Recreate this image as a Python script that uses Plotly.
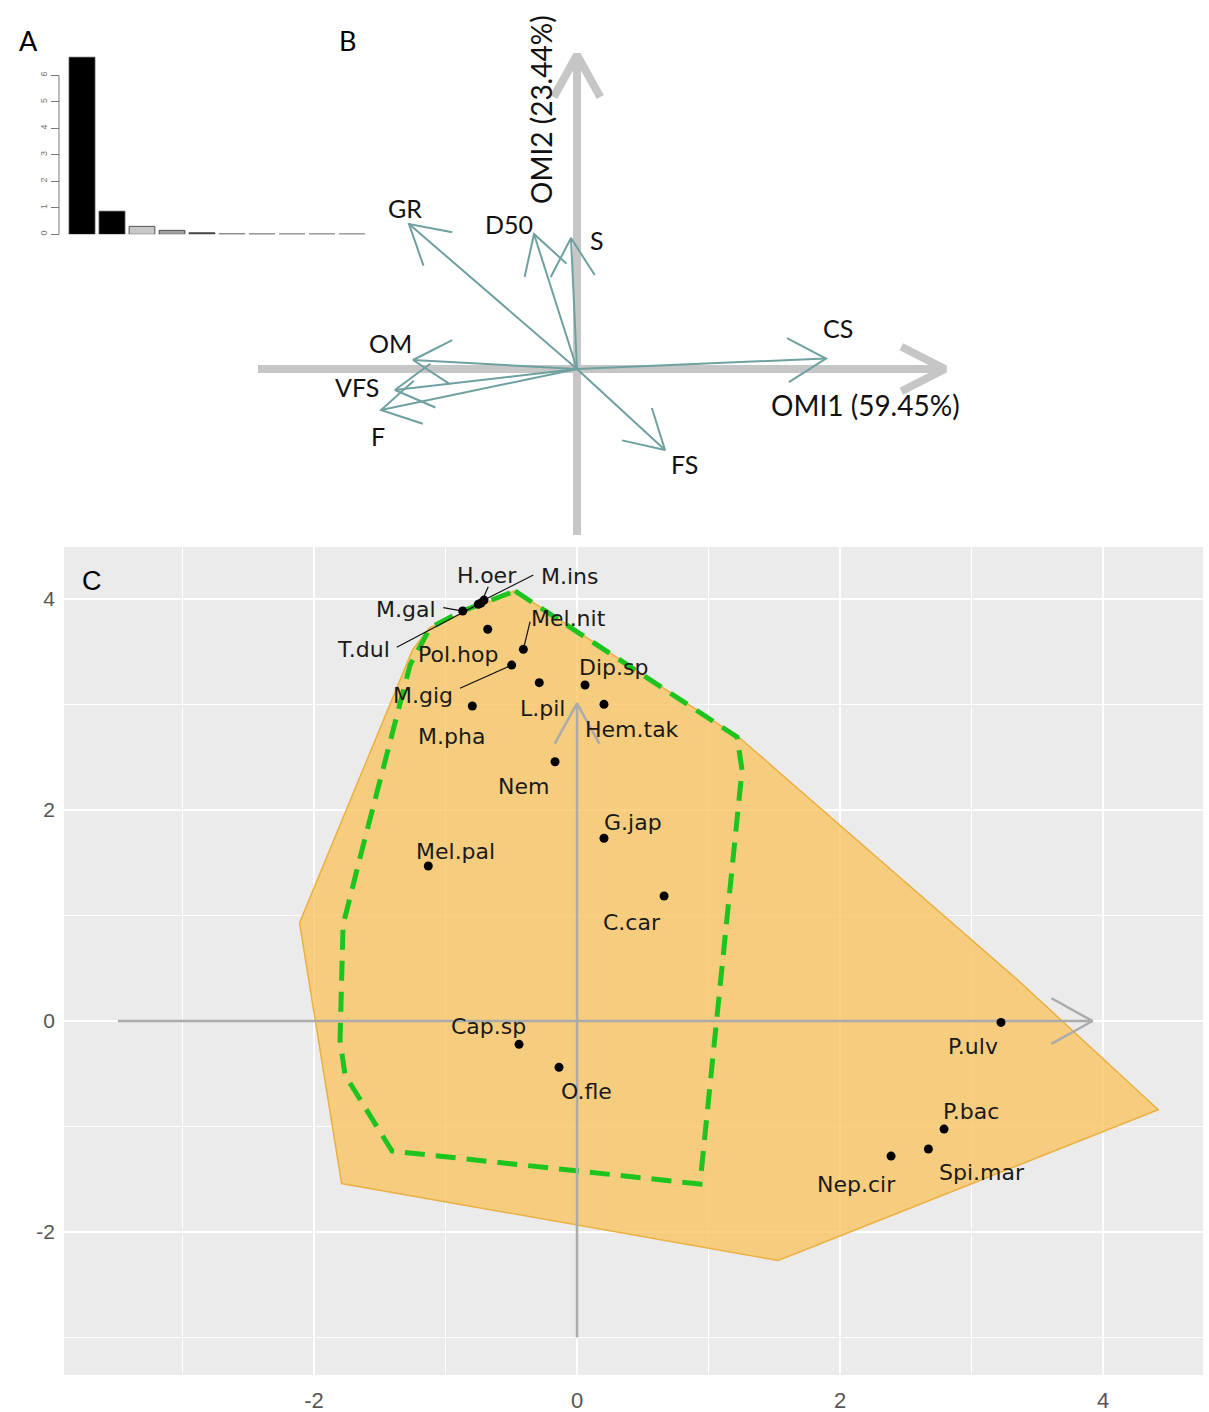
import math
import plotly.graph_objects as go

W, H = 1209, 1412

# ---------------- Panel A : eigenvalue screeplot ----------------
eig_rank = [1, 2, 3, 4, 5, 6, 7, 8, 9, 10]
eig_values = [6.68, 0.87, 0.30, 0.15, 0.06, 0.015, 0.012, 0.01, 0.01, 0.01]
eig_fill = ["#000000", "#000000", "#C8C8C8", "#A0A0A0", "#505050",
            "#9A9A9A", "#9A9A9A", "#9A9A9A", "#9A9A9A", "#9A9A9A"]
eig_ticks = [0, 1, 2, 3, 4, 5, 6]

# ---------------- Panel B : environmental variables ----------------
var_names = ["GR", "D50", "S", "CS", "OM", "VFS", "F", "FS"]
var_x = [-1.68, -0.43, -0.06, 2.49, -1.64, -1.82, -1.96, 0.88]
var_y = [1.45, 1.35, 1.31, 0.105, 0.09, -0.21, -0.41, -0.81]
var_lab_x = [-1.72, -0.68, 0.20, 2.61, -1.87, -2.20, -1.99, 1.07]
var_lab_y = [1.61, 1.45, 1.29, 0.41, 0.26, -0.18, -0.67, -0.95]
omi_h_axis = [-3.19, 3.68]   # OMI1 axis extent
omi_v_axis = [-1.66, 3.14]   # OMI2 axis extent
omi1_title = "OMI1 (59.45%)"
omi2_title = "OMI2 (23.44%)"

# ---------------- Panel C : species niche positions ----------------
species = ["H.oer", "M.ins", "M.gal", "T.dul", "Mel.nit", "Pol.hop", "Dip.sp",
           "M.gig", "L.pil", "Hem.tak", "M.pha", "Nem", "G.jap", "Mel.pal",
           "C.car", "Cap.sp", "O.fle", "P.ulv", "P.bac", "Spi.mar", "Nep.cir"]
sp_x = [-0.730, -0.707, -0.869, -0.750, -0.408, -0.679, 0.061, -0.497, -0.287,
        0.205, -0.796, -0.167, 0.205, -1.131, 0.662, -0.441, -0.137, 3.224,
        2.791, 2.672, 2.388]
sp_y = [3.962, 3.990, 3.886, 3.950, 3.523, 3.713, 3.185, 3.374, 3.207, 3.002,
        2.986, 2.458, 1.732, 1.469, 1.185, -0.221, -0.439, -0.013, -1.024,
        -1.213, -1.280]
lab_x = [-0.687, -0.057, -1.300, -1.620, -0.061, -0.907, 0.276, -1.173, -0.264,
         0.416, -0.958, -0.408, 0.424, -0.924, 0.421, -0.675, 0.074, 3.014,
         2.994, 3.078, 2.122]
lab_y = [4.227, 4.218, 3.902, 3.517, 3.820, 3.476, 3.349, 3.081, 2.964, 2.765,
         2.695, 2.227, 1.883, 1.611, 0.932, -0.054, -0.664, -0.244, -0.860,
         -1.438, -1.545]
leader_species = ["M.gal", "T.dul", "H.oer", "M.ins", "Mel.nit", "M.gig"]
leader_x0 = [-1.017, -1.371, -0.675, -0.332, -0.357, -0.890]
leader_y0 = [3.918, 3.542, 4.117, 4.227, 3.785, 3.154]

hull_x = [-0.47, 1.24, 3.35, 4.42, 1.53, -1.79, -2.11, -1.25, -1.12]
hull_y = [4.08, 2.68, 0.39, -0.84, -2.27, -1.54, 0.93, 3.52, 3.73]

green_x = [-0.471, 1.217, 1.255, 0.935, -1.407, -1.764, -1.802, -1.779, -1.635,
           -1.270, -1.118, -0.890]
green_y = [4.076, 2.692, 2.379, -1.545, -1.232, -0.512, -0.180, 0.910, 1.621,
           3.374, 3.725, 3.877]

c_h_axis = [-3.49, 3.92]
c_v_axis = [-3.0, 3.01]
c_ticks = [-2, 0, 2, 4]
c_tick_text = ["-2", "0", "2", "4"]
c_minor = [-3, -1, 1, 3]

# ---------------- geometry / layout ----------------
A_xdom = [67 / W, 367 / W]
A_xrange = [0.5, 10.5]
A_yrange = [0, 6.8]
A_ydom = [1 - 234.3 / H, 1 - (234.3 - 6.8 * 26.5) / H]

B_xdom = [240 / W, 980 / W]
B_ydom = [1 - 545 / H, 1 - 30 / H]
B_xrange = [-3.37, 4.03]
B_yrange = [-1.76, 3.39]

C_xdom = [64 / W, 1203 / W]
C_ydom = [1 - 1375 / H, 1 - 547 / H]
C_xrange = [-3.901, 4.760]
C_yrange = [-3.355, 4.493]


def px_scale(xdom, ydom, xr, yr):
    sx = (xdom[1] - xdom[0]) * W / (xr[1] - xr[0])
    sy = (ydom[1] - ydom[0]) * H / (yr[1] - yr[0])
    return sx, sy


def arrow_path(x0, y0, x1, y1, sx, sy, head_len, ang_deg, shaft=True):
    dx, dy = (x1 - x0) * sx, (y1 - y0) * sy
    n = math.hypot(dx, dy)
    ux, uy = -dx / n, -dy / n
    a = math.radians(ang_deg)
    pts = []
    for s in (1, -1):
        rx = ux * math.cos(s * a) - uy * math.sin(s * a)
        ry = ux * math.sin(s * a) + uy * math.cos(s * a)
        pts.append((x1 + head_len * rx / sx, y1 + head_len * ry / sy))
    xs, ys = [], []
    if shaft:
        xs += [x0, x1, None]
        ys += [y0, y1, None]
    xs += [pts[0][0], x1, pts[1][0], None]
    ys += [pts[0][1], y1, pts[1][1], None]
    return xs, ys


fig = go.Figure()

# ---- Panel A
fig.add_trace(go.Bar(x=eig_rank, y=eig_values, marker_color=eig_fill,
                     marker_line=dict(color="#333333", width=0.8),
                     width=0.86, xaxis="x", yaxis="y", showlegend=False))

# ---- Panel B
bsx, bsy = px_scale(B_xdom, B_ydom, B_xrange, B_yrange)
gx, gy = arrow_path(omi_h_axis[0], 0, omi_h_axis[1], 0, bsx, bsy, 49, 27)
fig.add_trace(go.Scatter(x=gx, y=gy, mode="lines", xaxis="x2", yaxis="y2",
                         line=dict(color="#C6C6C6", width=8), showlegend=False,
                         hoverinfo="skip"))
gx, gy = arrow_path(0, omi_v_axis[0], 0, omi_v_axis[1], bsx, bsy, 48, 29)
fig.add_trace(go.Scatter(x=gx, y=gy, mode="lines", xaxis="x2", yaxis="y2",
                         line=dict(color="#C6C6C6", width=8), showlegend=False,
                         hoverinfo="skip"))
ax_all, ay_all = [], []
for vx, vy in zip(var_x, var_y):
    xs, ys = arrow_path(0, 0, vx, vy, bsx, bsy, 44, 30)
    ax_all += xs
    ay_all += ys
fig.add_trace(go.Scatter(x=ax_all, y=ay_all, mode="lines", xaxis="x2", yaxis="y2",
                         line=dict(color="#6FA0A0", width=2), showlegend=False,
                         hoverinfo="skip"))

# ---- Panel C
csx, csy = px_scale(C_xdom, C_ydom, C_xrange, C_yrange)
fig.add_trace(go.Scatter(x=hull_x + [hull_x[0]], y=hull_y + [hull_y[0]],
                         mode="lines", fill="toself",
                         fillcolor="rgba(250,195,90,0.75)",
                         line=dict(color="#EBB042", width=1.5),
                         xaxis="x3", yaxis="y3", showlegend=False, hoverinfo="skip"))
fig.add_trace(go.Scatter(x=green_x + [green_x[0]], y=green_y + [green_y[0]],
                         mode="lines", line=dict(color="#1DC41D", width=5, dash="20px,11px"),
                         xaxis="x3", yaxis="y3", showlegend=False, hoverinfo="skip"))
hx, hy = arrow_path(c_h_axis[0], 0, c_h_axis[1], 0, csx, csy, 47, 29)
vx_, vy_ = arrow_path(0, c_v_axis[0], 0, c_v_axis[1], csx, csy, 46, 29)
fig.add_trace(go.Scatter(x=hx + vx_, y=hy + vy_, mode="lines",
                         line=dict(color="#ABABAB", width=2.5),
                         xaxis="x3", yaxis="y3", showlegend=False, hoverinfo="skip"))
lx, ly = [], []
for name, x0, y0 in zip(leader_species, leader_x0, leader_y0):
    i = species.index(name)
    lx += [x0, sp_x[i], None]
    ly += [y0, sp_y[i], None]
fig.add_trace(go.Scatter(x=lx, y=ly, mode="lines", line=dict(color="#111111", width=1.2),
                         xaxis="x3", yaxis="y3", showlegend=False, hoverinfo="skip"))
fig.add_trace(go.Scatter(x=sp_x, y=sp_y, mode="markers",
                         marker=dict(color="black", size=9),
                         xaxis="x3", yaxis="y3", showlegend=False, text=species))

annotations = []
for name, x, y in zip(species, lab_x, lab_y):
    annotations.append(dict(x=x, y=y, xref="x3", yref="y3", text=name, showarrow=False,
                            xanchor="center", yanchor="middle",
                            font=dict(family="DejaVu Sans", size=22, color="#1A1A1A")))
for name, x, y in zip(var_names, var_lab_x, var_lab_y):
    annotations.append(dict(x=x, y=y, xref="x2", yref="y2", text=name, showarrow=False,
                            xanchor="center", yanchor="middle",
                            font=dict(family="Lato", size=25, color="#111111")))
annotations.append(dict(x=2.88, y=-0.36, xref="x2", yref="y2", text=omi1_title,
                        showarrow=False, xanchor="center", yanchor="middle",
                        font=dict(family="Lato", size=28, color="#111111")))
annotations.append(dict(x=-0.36, y=2.59, xref="x2", yref="y2", text=omi2_title,
                        showarrow=False, xanchor="center", yanchor="middle", textangle=-90,
                        font=dict(family="Lato", size=28, color="#111111")))
for letter, px, py, fam in [("A", 28, 40, "Lato"), ("B", 347, 40, "Lato"),
                            ("C", 92, 581, "Liberation Sans")]:
    annotations.append(dict(x=px / W, y=1 - py / H, xref="paper", yref="paper",
                            text=letter, showarrow=False, xanchor="center",
                            yanchor="middle", font=dict(family=fam, size=27, color="black")))

shapes = [
    dict(type="rect", xref="x3 domain", yref="y3 domain", x0=0, x1=1, y0=0, y1=1,
         fillcolor="#EBEBEB", line=dict(width=0), layer="below"),
    dict(type="line", xref="paper", yref="y", x0=59 / W, x1=59 / W,
         y0=eig_ticks[0], y1=eig_ticks[-1], line=dict(color="#7A7A7A", width=1)),
]

fig.update_layout(
    width=W, height=H, margin=dict(l=0, r=0, t=0, b=0),
    paper_bgcolor="white", plot_bgcolor="rgba(0,0,0,0)",
    showlegend=False, bargap=0.14,
    annotations=annotations, shapes=shapes,
    xaxis=dict(domain=A_xdom, range=A_xrange, visible=False, anchor="y"),
    yaxis=dict(domain=A_ydom, range=A_yrange, anchor="free", position=59 / W,
               tickvals=eig_ticks, ticks="outside", ticklen=8, tickcolor="#7A7A7A",
               tickangle=-90, showgrid=False, zeroline=False, showline=False,
               tickfont=dict(family="Liberation Sans", size=9, color="#777777")),
    xaxis2=dict(domain=B_xdom, range=B_xrange, visible=False, anchor="y2"),
    yaxis2=dict(domain=B_ydom, range=B_yrange, visible=False, anchor="x2"),
    xaxis3=dict(domain=C_xdom, range=C_xrange, anchor="y3", tickvals=c_ticks,
                ticktext=c_tick_text,
                showgrid=True, gridcolor="white", gridwidth=2, zeroline=False,
                showline=False, ticks="", ticklabelstandoff=10,
                minor=dict(tickvals=c_minor, showgrid=True, gridcolor="white", gridwidth=1.2),
                tickfont=dict(family="Liberation Sans Narrow, Liberation Sans", size=22,
                              color="#555555")),
    yaxis3=dict(domain=C_ydom, range=C_yrange, anchor="x3", tickvals=c_ticks,
                ticktext=c_tick_text,
                showgrid=True, gridcolor="white", gridwidth=2, zeroline=False,
                showline=False, ticks="", ticklabelstandoff=8,
                minor=dict(tickvals=c_minor, showgrid=True, gridcolor="white", gridwidth=1.2),
                tickfont=dict(family="Liberation Sans", size=21, color="#555555")),
)

fig.write_html("out.html", config={"displayModeBar": False},
               post_script="document.body.style.margin='0';document.body.style.overflow='hidden';")
